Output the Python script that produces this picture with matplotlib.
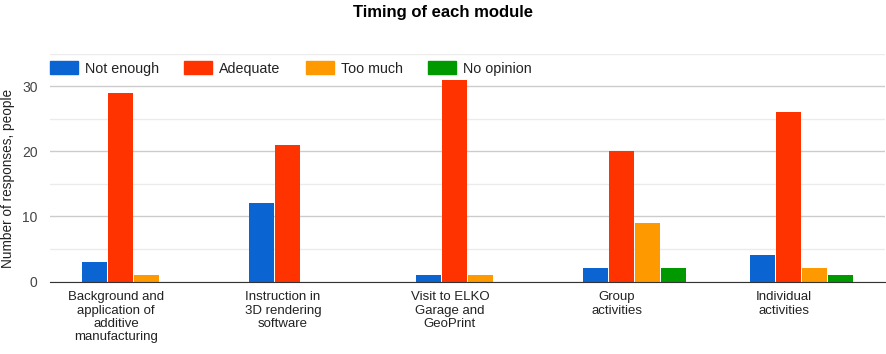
import numpy as np
import matplotlib.pyplot as plt
from matplotlib.patches import Patch

plt.rcParams['font.family'] = ['Liberation Sans', 'DejaVu Sans']

# data
modules = ['Background and\napplication of\nadditive\nmanufacturing',
           'Instruction in\n3D rendering\nsoftware',
           'Visit to ELKO\nGarage and\nGeoPrint',
           'Group\nactivities',
           'Individual\nactivities']
series = ['Not enough', 'Adequate', 'Too much', 'No opinion']
not_enough = [3, 12, 1, 2, 4]
adequate = [29, 21, 31, 20, 26]
too_much = [1, 0, 1, 9, 2]
no_opinion = [0, 0, 0, 2, 1]
colors = ['#0a64d2', '#ff3300', '#ff9900', '#009900']

values = [not_enough, adequate, too_much, no_opinion]

fig = plt.figure(figsize=(8.86, 3.54), dpi=100)
ax = fig.add_axes([50 / 886, 1 - 281.5 / 354, 835 / 886, 228 / 354])

x = np.arange(len(modules))
step = 0.1557
width = 0.15
for k, (vals, c) in enumerate(zip(values, colors)):
    ax.bar(x + (k - 1.5) * step, vals, width=width, color=c, zorder=3)

ax.set_xlim(-0.5, len(modules) - 0.5)
ax.set_ylim(0, 35)
ax.set_yticks([0, 10, 20, 30])
ax.set_yticks([5, 15, 25, 35], minor=True)
ax.grid(axis='y', which='major', color='#cccccc', lw=1, zorder=0)
ax.grid(axis='y', which='minor', color='#ebebeb', lw=1, zorder=0)
ax.set_xticks(x - 0.105)
ax.set_xticklabels(modules, linespacing=1.15)
ax.tick_params(axis='x', length=0, pad=7, labelsize=9.5, colors='#222222')
ax.tick_params(axis='y', which='both', length=0, pad=9, labelsize=10, colors='#444444')
for s in ['top', 'right', 'left']:
    ax.spines[s].set_visible(False)
ax.spines['bottom'].set_color('#333333')
ax.spines['bottom'].set_zorder(4)

fig.text(8 / 886, 1 - 178 / 354, 'Number of responses, people', rotation=90,
         ha='center', va='center', fontsize=9.8, color='#222222')
fig.text(0.5, 1 - 13 / 354, 'Timing of each module', ha='center', va='center',
         fontsize=12, fontweight='bold', color='#000000')

handles = [Patch(color=c) for c in colors]
fig.legend(handles, series, loc='center left', bbox_to_anchor=(50 / 886, 1 - 68.5 / 354),
           ncol=4, frameon=False, fontsize=10.3, borderpad=0, borderaxespad=0,
           handlelength=1.95, handleheight=0.95, handletextpad=0.5, columnspacing=1.75,
           labelcolor='#222222')

fig.savefig('out.png', dpi=100)
